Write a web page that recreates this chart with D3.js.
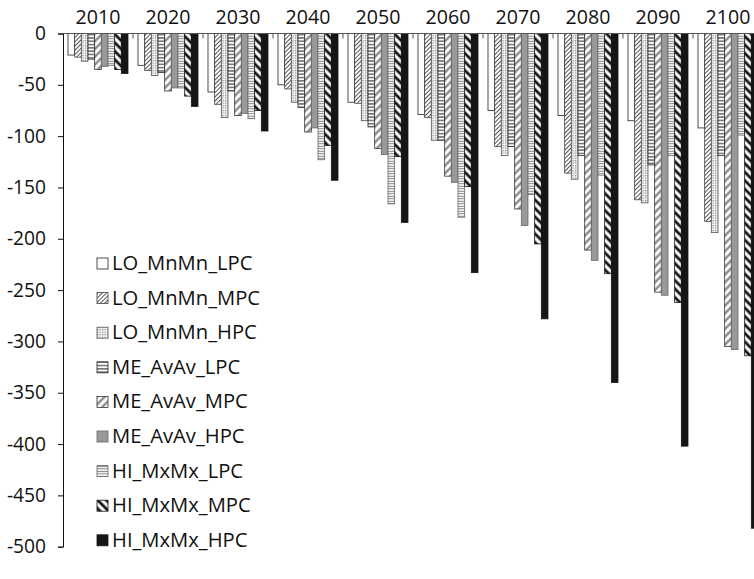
<!DOCTYPE html>
<html>
<head>
<meta charset="utf-8">
<script src="https://cdn.jsdelivr.net/npm/d3@7"></script>
<style>
  body { margin: 0; background: #fff; }
  svg { display: block; }
  text { font-family: "Open Sans", "Noto Sans", sans-serif; fill: #111; }
</style>
</head>
<body>
<svg id="chart" width="754" height="579"></svg>
<script>
// Decades on the category axis
const years = ["2010", "2020", "2030", "2040", "2050", "2060", "2070", "2080", "2090", "2100"];

// Scenario names (legend order = bar order inside each decade)
const seriesNames = [
  "LO_MnMn_LPC", "LO_MnMn_MPC", "LO_MnMn_HPC",
  "ME_AvAv_LPC", "ME_AvAv_MPC", "ME_AvAv_HPC",
  "HI_MxMx_LPC", "HI_MxMx_MPC", "HI_MxMx_HPC"
];

// One array of values per scenario, one value per decade
const LO_MnMn_LPC = [-21, -31, -57, -50, -67, -79, -75, -80, -85, -92];
const LO_MnMn_MPC = [-23, -36, -69, -54, -68, -82, -110, -136, -162, -183];
const LO_MnMn_HPC = [-27, -41, -82, -67, -85, -104, -119, -142, -165, -194];
const ME_AvAv_LPC = [-25, -38, -56, -72, -91, -104, -110, -119, -128, -119];
const ME_AvAv_MPC = [-35, -56, -80, -96, -112, -139, -171, -211, -252, -305];
const ME_AvAv_HPC = [-32, -53, -78, -92, -118, -145, -187, -221, -255, -308];
const HI_MxMx_LPC = [-31, -53, -83, -123, -166, -179, -157, -138, -119, -99];
const HI_MxMx_MPC = [-35, -61, -75, -109, -120, -149, -205, -234, -262, -314];
const HI_MxMx_HPC = [-39, -71, -95, -143, -184, -233, -278, -340, -402, -482];

const seriesValues = [
  LO_MnMn_LPC, LO_MnMn_MPC, LO_MnMn_HPC,
  ME_AvAv_LPC, ME_AvAv_MPC, ME_AvAv_HPC,
  HI_MxMx_LPC, HI_MxMx_MPC, HI_MxMx_HPC
];

// Value axis ticks
const yTicks = [0, -50, -100, -150, -200, -250, -300, -350, -400, -450, -500];

const svg = d3.select("#chart");
const defs = svg.append("defs");

// Fill patterns for the hatched bars
function linePattern(id, size, angle, color, width, bg) {
  const p = defs.append("pattern")
    .attr("id", id)
    .attr("patternUnits", "userSpaceOnUse")
    .attr("width", size).attr("height", size)
    .attr("patternTransform", `rotate(${angle})`);
  p.append("rect").attr("width", size).attr("height", size).attr("fill", bg);
  p.append("line")
    .attr("x1", 0).attr("y1", size / 2).attr("x2", size).attr("y2", size / 2)
    .attr("stroke", color).attr("stroke-width", width);
}
linePattern("pat-lo-mpc", 3, -45, "#555", 1, "#fff");
linePattern("pat-me-lpc", 3.3, 0, "#222", 1, "#fff");
linePattern("pat-me-mpc", 5.5, -45, "#8a8a8a", 2.4, "#fff");
linePattern("pat-hi-lpc", 2.5, 0, "#7a7a7a", 1, "#fff");
linePattern("pat-hi-mpc", 6, 45, "#111", 2.8, "#fff");

const dots = defs.append("pattern")
  .attr("id", "pat-lo-hpc")
  .attr("patternUnits", "userSpaceOnUse")
  .attr("width", 2.5).attr("height", 2.5);
dots.append("rect").attr("width", 2.5).attr("height", 2.5).attr("fill", "#f2f2f2");
dots.append("rect").attr("width", 1.2).attr("height", 1.2).attr("fill", "#8a8a8a");

const seriesStyle = [
  { fill: "#fff", stroke: "#222" },
  { fill: "url(#pat-lo-mpc)", stroke: "#444" },
  { fill: "url(#pat-lo-hpc)", stroke: "#555" },
  { fill: "url(#pat-me-lpc)", stroke: "#222" },
  { fill: "url(#pat-me-mpc)", stroke: "#333" },
  { fill: "#999", stroke: "#666" },
  { fill: "url(#pat-hi-lpc)", stroke: "#666" },
  { fill: "url(#pat-hi-mpc)", stroke: "#111" },
  { fill: "#151515", stroke: "#151515" }
];

// Scales
const x0 = d3.scaleBand().domain(years).range([63, 763]).paddingInner(0).paddingOuter(0);
const x1 = d3.scaleBand().domain(seriesNames).range([0, x0.bandwidth()])
  .paddingInner(0).paddingOuter(0.75);
const y = d3.scaleLinear().domain([-500, 0]).range([546.7, 33.5]);

// Bars
const groups = svg.append("g").selectAll("g")
  .data(seriesNames)
  .join("g")
  .attr("fill", (d, i) => seriesStyle[i].fill)
  .attr("stroke", (d, i) => seriesStyle[i].stroke)
  .attr("stroke-width", 0.8);

groups.selectAll("rect")
  .data((name, i) => years.map((yr, j) => ({ yr, name, v: seriesValues[i][j] })))
  .join("rect")
  .attr("x", d => x0(d.yr) + x1(d.name))
  .attr("y", y(0))
  .attr("width", x1.bandwidth())
  .attr("height", d => y(d.v) - y(0));

// Category axis along the zero line, labels above
svg.append("line")
  .attr("x1", 63).attr("x2", 763)
  .attr("y1", y(0)).attr("y2", y(0))
  .attr("stroke", "#555").attr("stroke-width", 1);

svg.append("g").selectAll("line")
  .data(years.slice(1))
  .join("line")
  .attr("x1", d => x0(d)).attr("x2", d => x0(d))
  .attr("y1", y(0)).attr("y2", y(0) + 5)
  .attr("stroke", "#555").attr("stroke-width", 1);

svg.append("g").selectAll("text")
  .data(years)
  .join("text")
  .attr("x", d => x0(d) + x0.bandwidth() / 2)
  .attr("y", 24)
  .attr("text-anchor", "middle")
  .attr("font-size", 19.6)
  .text(d => d);

// Value axis
const yAxis = svg.append("g")
  .attr("transform", "translate(63,0)")
  .call(d3.axisLeft(y).tickValues(yTicks).tickSize(5).tickPadding(12).tickFormat(d3.format("d")));
yAxis.select(".domain").attr("stroke", "#111");
yAxis.selectAll(".tick line").attr("stroke", "#111");
yAxis.selectAll("text")
  .attr("font-size", 19.2)
  .attr("font-family", "\"Open Sans\", \"Noto Sans\", sans-serif")
  .attr("fill", "#111")
  .text(d => d3.format("d")(d).replace("\u2212", "-"));

// Legend
const legend = svg.append("g").selectAll("g")
  .data(seriesNames)
  .join("g")
  .attr("transform", (d, i) => `translate(97, ${270 + i * 34.6})`);

legend.append("rect")
  .attr("x", 0).attr("y", -12)
  .attr("width", 11).attr("height", 11)
  .attr("fill", (d, i) => seriesStyle[i].fill)
  .attr("stroke", (d, i) => seriesStyle[i].stroke)
  .attr("stroke-width", 0.8);

legend.append("text")
  .attr("x", 15)
  .attr("y", 0)
  .attr("font-size", 20.2)
  .text(d => d);
</script>
</body>
</html>
